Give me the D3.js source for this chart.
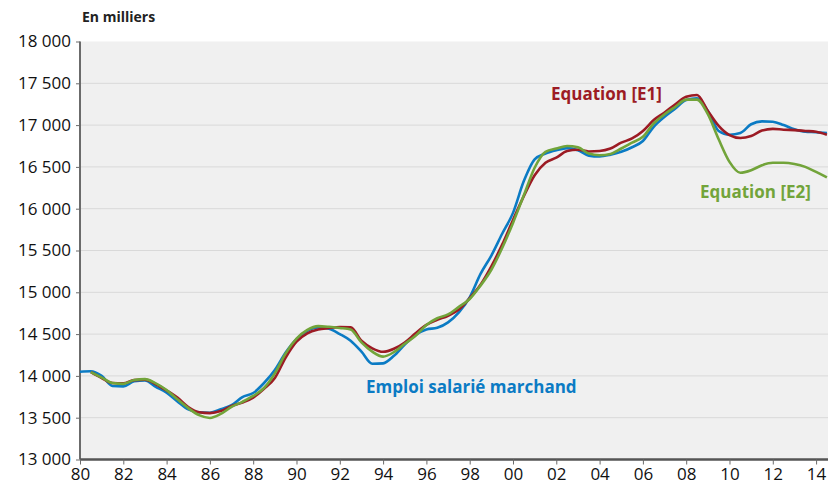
<!DOCTYPE html>
<html>
<head>
<meta charset="utf-8">
<script src="https://cdn.jsdelivr.net/npm/d3@7"></script>
<style>
  body { margin: 0; background: #fff; }
  text { font-family: "Open Sans", sans-serif; }
</style>
</head>
<body>
<div id="chart"></div>
<script>
// half-year points
var years = d3.range(1980, 2014.51, 0.5)

var emploi = [14050, 14055, 14000, 13880, 13875, 13935, 13945, 13870, 13800, 13695,
  13600, 13565, 13560, 13600, 13650, 13745, 13795, 13915, 14070, 14280,
  14440, 14540, 14580, 14565, 14500, 14420, 14290, 14145, 14150, 14240,
  14375, 14490, 14555, 14575, 14640, 14760, 14940, 15220, 15440, 15700,
  15950, 16330, 16590, 16660, 16700, 16725, 16700, 16635, 16625, 16645,
  16680, 16735, 16810, 16980, 17100, 17200, 17300, 17320, 17170, 16930,
  16885, 16905, 17010, 17045, 17040, 17000, 16950, 16920, 16915, 16905]

// equations start at 1980.5
var eqE1 = [null, 14045, 13975, 13915, 13910, 13950, 13955, 13900, 13825, 13740,
  13628, 13565, 13555, 13580, 13640, 13680, 13740, 13845, 13975, 14220,
  14410, 14510, 14555, 14572, 14585, 14580, 14420, 14330, 14288, 14325,
  14400, 14510, 14610, 14670, 14720, 14795, 14930, 15090, 15310, 15570,
  15865, 16150, 16400, 16550, 16610, 16690, 16705, 16685, 16690, 16720,
  16790, 16840, 16930, 17060, 17150, 17250, 17340, 17360, 17170, 16990,
  16880, 16845, 16870, 16935, 16955, 16945, 16940, 16930, 16920, 16885]

var eqE2 = [null, 14045, 13980, 13915, 13905, 13950, 13962, 13910, 13830, 13720,
  13615, 13530, 13497, 13545, 13630, 13690, 13760, 13855, 14030, 14270,
  14445, 14550, 14595, 14587, 14573, 14555, 14400, 14290, 14230, 14285,
  14385, 14480, 14610, 14690, 14735, 14825, 14920, 15080, 15270, 15530,
  15830, 16160, 16490, 16680, 16720, 16750, 16735, 16660, 16640, 16655,
  16720, 16790, 16860, 17020, 17130, 17220, 17305, 17305, 17130, 16830,
  16560, 16430, 16460, 16520, 16550, 16550, 16535, 16500, 16440, 16375]

var yTicks = [13000, 13500, 14000, 14500, 15000, 15500, 16000, 16500, 17000, 17500, 18000]
var xTicks = d3.range(1980, 2015, 2)

var width = 828, height = 485
var mLeft = 80, mRight = 828, mTop = 41.5, mBottom = 459.5

var svg = d3.select('#chart').append('svg')
    .attr('width', width)
    .attr('height', height)

var x = d3.scaleLinear().domain([1980, 2014.55]).range([mLeft, mRight])
var y = d3.scaleLinear().domain([13000, 18000]).range([mBottom, mTop])

// plot background
svg.append('rect')
    .attr('x', mLeft).attr('y', mTop)
    .attr('width', mRight - mLeft).attr('height', mBottom - mTop)
    .attr('fill', '#f0f0f0')

// gridlines
svg.append('g')
    .selectAll('line')
    .data(yTicks.filter(function(d){ return d > 13000 && d < 18000 }))
    .enter()
    .append('line')
    .attr('x1', mLeft).attr('x2', mRight)
    .attr('y1', function(d){ return y(d) }).attr('y2', function(d){ return y(d) })
    .attr('stroke', '#d9d9d9')
    .attr('stroke-width', 1)

var fmt = function(d){ return d3.format(',')(d).replace(',', ' ') }

var yAxis = svg.append('g')
    .attr('transform', 'translate(' + mLeft + ',0)')
    .call(d3.axisLeft(y).tickValues(yTicks).tickSize(4).tickPadding(5).tickFormat(fmt))
yAxis.select('.domain').attr('stroke', '#6b6b6b').attr('stroke-width', 2)
    .attr('d', 'M0,' + mTop + 'V' + mBottom)
yAxis.selectAll('.tick line').attr('stroke', '#6b6b6b')
yAxis.selectAll('text')
    .attr('font-family', '"Open Sans", sans-serif')
    .attr('font-size', 17)
    .attr('fill', '#111')

var xAxis = svg.append('g')
    .attr('transform', 'translate(0,' + mBottom + ')')
    .call(d3.axisBottom(x).tickValues(xTicks).tickSize(5).tickPadding(3)
        .tickFormat(function(d){ return d3.format('02')(d % 100) }))
xAxis.select('.domain').attr('stroke', '#555').attr('stroke-width', 2.5)
    .attr('d', 'M' + mLeft + ',0H' + mRight)
xAxis.selectAll('.tick line').attr('stroke', '#6b6b6b')
xAxis.selectAll('text')
    .attr('font-family', '"Open Sans", sans-serif')
    .attr('font-size', 17)
    .attr('fill', '#111')

// unit label
svg.append('text')
    .attr('x', 82).attr('y', 22)
    .attr('font-size', 14)
    .attr('font-weight', 'bold')
    .attr('fill', '#222')
    .text('En milliers')

svg.append('clipPath').attr('id', 'plot')
    .append('rect').attr('x', mLeft).attr('y', mTop)
    .attr('width', mRight - mLeft).attr('height', mBottom - mTop)

var line = d3.line()
    .defined(function(d){ return d[1] != null })
    .x(function(d){ return x(d[0]) })
    .y(function(d){ return y(d[1]) })
    .curve(d3.curveMonotoneX)

var series = [
  {vals: emploi, color: '#0b7bc4'},
  {vals: eqE1, color: '#9c1b24'},
  {vals: eqE2, color: '#72a43a'}
]

svg.append('g')
    .attr('clip-path', 'url(#plot)')
    .selectAll('path')
    .data(series)
    .enter()
    .append('path')
    .attr('fill', 'none')
    .attr('stroke', function(d){ return d.color })
    .attr('stroke-width', 2.6)
    .attr('stroke-linejoin', 'round')
    .attr('d', function(d){ return line(years.map(function(yr, i){ return [yr, d.vals[i]] })) })

// series labels
var labels = [
  {text: 'Equation [E1]', x: 551, y: 100, color: '#9c1b24'},
  {text: 'Equation [E2]', x: 700, y: 198, color: '#72a43a'},
  {text: 'Emploi salarié marchand', x: 366, y: 393, color: '#0b7bc4'}
]
svg.append('g')
    .selectAll('text')
    .data(labels)
    .enter()
    .append('text')
    .attr('x', function(d){ return d.x })
    .attr('y', function(d){ return d.y })
    .attr('fill', function(d){ return d.color })
    .attr('font-size', 17)
    .attr('font-weight', 'bold')
    .text(function(d){ return d.text })
</script>
</body>
</html>
